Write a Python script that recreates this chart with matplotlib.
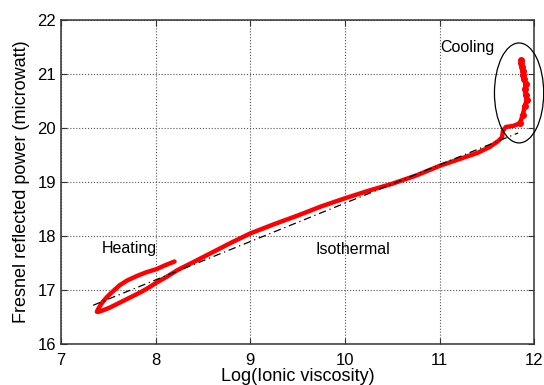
import numpy as np
import matplotlib.pyplot as plt
from matplotlib.patches import Ellipse

# red measured curve (heating loop -> isothermal -> cooling)
log_visc = [8.20, 8.10, 8.01, 7.90, 7.80, 7.70, 7.62, 7.55, 7.49, 7.44, 7.41, 7.39,
            7.38, 7.40, 7.45, 7.52, 7.60, 7.68, 7.76, 7.84, 7.93, 8.01, 8.12,
            8.23, 8.40, 8.60, 8.80, 9.00, 9.25, 9.50, 9.75, 10.00, 10.25, 10.50,
            10.75, 11.00, 11.20, 11.40, 11.53, 11.62, 11.66, 11.67, 11.70, 11.78,
            11.85, 11.88, 11.90, 11.92, 11.91, 11.90, 11.91, 11.89, 11.88, 11.88,
            11.87, 11.86, 11.86]
power = [17.53, 17.46, 17.39, 17.33, 17.26, 17.18, 17.09, 16.98, 16.88, 16.78, 16.70,
         16.64, 16.60, 16.60, 16.63, 16.68, 16.75, 16.82, 16.89, 16.96, 17.05, 17.14,
         17.25, 17.37, 17.52, 17.70, 17.88, 18.05, 18.22, 18.38, 18.55, 18.70, 18.84,
         18.97, 19.12, 19.30, 19.42, 19.54, 19.65, 19.76, 19.83, 19.95, 20.02, 20.04,
         20.09, 20.25, 20.40, 20.52, 20.62, 20.72, 20.82, 20.90, 20.98, 21.06, 21.13,
         21.20, 21.26]

# dash-dot linear fit
fit_x = [7.34, 11.83]
fit_y = [16.72, 19.91]

plt.rcParams['font.family'] = ['Liberation Sans', 'DejaVu Sans']

fig = plt.figure(figsize=(5.44, 3.85), dpi=100)
ax = fig.add_axes([0.112, 0.106, 0.870, 0.842])

ax.plot(log_visc, power, color='red', lw=3.2, solid_capstyle='round',
        solid_joinstyle='round', zorder=3)
ax.plot(log_visc[-13:], power[-13:], 'o', color='red', ms=4, zorder=3)
ax.plot(fit_x, fit_y, color='black', lw=0.9, ls=(0, (6, 3, 1, 3)), zorder=4)

ax.add_patch(Ellipse((11.84, 20.65), 0.52, 1.85, fill=False, ec='black', lw=0.9,
                     clip_on=False, zorder=5))

ax.text(11.29, 21.5, 'Cooling', fontsize=11.5, ha='center', va='center')
ax.text(7.72, 17.78, 'Heating', fontsize=11.5, ha='center', va='center')
ax.text(10.08, 17.76, 'Isothermal', fontsize=11.5, ha='center', va='center')

ax.set_xlim(7, 12)
ax.set_ylim(16, 22)
ax.set_xticks(range(7, 13))
ax.set_yticks(range(16, 23))
ax.grid(True, ls=':', color='#555555', lw=0.8)
ax.tick_params(direction='in', top=True, right=True, labelsize=12, length=4, color='#333333')
ax.tick_params(axis='x', pad=6)
for s in ax.spines.values():
    s.set_color('#333333')
    s.set_linewidth(1.1)

ax.set_xlabel('Log(Ionic viscosity)', fontsize=13, labelpad=0)
ax.set_ylabel('Fresnel reflected power (microwatt)', fontsize=13, labelpad=5)

fig.savefig('out.png', dpi=100)
